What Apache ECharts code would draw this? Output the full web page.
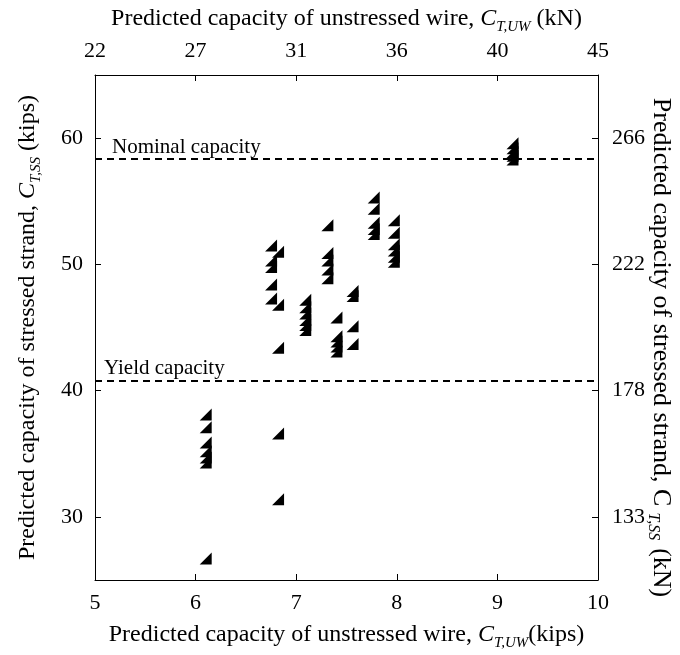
<!DOCTYPE html>
<html>
<head>
<meta charset="utf-8">
<script src="https://cdn.jsdelivr.net/npm/echarts@6/dist/echarts.min.js"></script>
<style>
  html, body { margin: 0; padding: 0; background: #fff; }
  #chart { width: 680px; height: 655px; }
</style>
</head>
<body>
<div id="chart"></div>
<script>
// predicted capacity of unstressed wire (kips) / stressed strand (kips)
var wireKips = [
  6.1, 6.1, 6.1, 6.1, 6.1, 6.1, 6.1,
  6.82, 6.82, 6.82,
  6.75, 6.75, 6.75, 6.75, 6.75,
  6.82, 6.82,
  7.09, 7.09, 7.09, 7.09, 7.09, 7.09,
  7.31, 7.31, 7.31, 7.31, 7.31,
  7.40, 7.40, 7.40, 7.40, 7.40,
  7.56, 7.56, 7.56, 7.56,
  7.77, 7.77, 7.77, 7.77, 7.77,
  7.97, 7.97, 7.97, 7.97, 7.97, 7.97,
  9.15, 9.15, 9.15, 9.15, 9.15
];
var strandKips = [
  38.1, 37.1, 35.9, 35.2, 34.7, 34.3, 26.7,
  36.6, 31.4, 43.4,
  51.5, 50.3, 49.8, 48.4, 47.3,
  51.0, 46.8,
  47.2, 46.6, 46.1, 45.6, 45.2, 44.8,
  53.1, 50.9, 50.3, 49.6, 48.9,
  45.8, 44.3, 43.9, 43.5, 43.1,
  47.9, 47.5, 45.1, 43.7,
  55.3, 54.4, 53.3, 52.8, 52.4,
  53.5, 52.5, 51.6, 51.1, 50.6, 50.2,
  59.6, 59.2, 58.9, 58.6, 58.3
];

var kipsTicks = [5, 6, 7, 8, 9, 10];
var wireKnLabels = ['22', '27', '31', '36', '40', '45'];
var strandTicks = [30, 40, 50, 60];
var strandKnLabels = ['133', '178', '222', '266'];

var nominalCapacity = 58.4;
var yieldCapacity = 40.75;

var FONT = '"Liberation Serif", "DejaVu Serif", serif';

var nameRich = {
  t: { fontFamily: FONT, fontSize: 24, color: '#000', lineHeight: 30 },
  i: { fontFamily: FONT, fontSize: 24, color: '#000', fontStyle: 'italic', lineHeight: 30 },
  s: { fontFamily: FONT, fontSize: 15, color: '#000', fontStyle: 'italic', padding: [16, 0, 0, 0], lineHeight: 16 }
};
var rightRich = {
  t: { fontFamily: FONT, fontSize: 26, color: '#000', lineHeight: 30 },
  u: { fontFamily: FONT, fontSize: 26, color: '#000', lineHeight: 30 },
  g: { fontFamily: FONT, fontSize: 16, color: '#000', fontStyle: 'italic', padding: [16, 8, 0, 6], lineHeight: 16 }
};

var points = wireKips.map(function(x, i) { return [x, strandKips[i]]; });

var lineStyle = { color: '#000', width: 1 };
var tickStyle = { show: true, inside: true, length: 6, lineStyle: { color: '#000', width: 1 } };
var labelStyle = { fontFamily: FONT, fontSize: 22, color: '#000' };

var chart = echarts.init(document.getElementById('chart'));
chart.setOption({
  animation: false,
  backgroundColor: '#fff',
  grid: { left: 95, right: 82, top: 75, bottom: 75, outerBoundsMode: 'none', containLabel: false },
  xAxis: [
    {
      type: 'value', position: 'bottom', min: 5, max: 10, interval: 1,
      axisLine: { show: true, lineStyle: lineStyle },
      axisTick: tickStyle,
      splitLine: { show: false },
      axisLabel: Object.assign({ margin: 12 }, labelStyle),
      name: '{t|Predicted capacity of unstressed wire, }{i|C}{s|T,UW}{t|(kips)}',
      nameLocation: 'middle', nameGap: 40,
      nameTextStyle: { rich: nameRich }
    },
    {
      type: 'value', position: 'top', min: 5, max: 10, interval: 1,
      axisLine: { show: true, lineStyle: lineStyle },
      axisTick: tickStyle,
      splitLine: { show: false },
      axisLabel: Object.assign({
        margin: 13,
        formatter: function(v) { return wireKnLabels[kipsTicks.indexOf(Math.round(v))]; }
      }, labelStyle),
      name: '{t|Predicted capacity of unstressed wire, }{i|C}{s|T,UW}{t| (kN)}',
      nameLocation: 'middle', nameGap: 41,
      nameTextStyle: { rich: nameRich }
    }
  ],
  yAxis: [
    {
      type: 'value', position: 'left', min: 25, max: 65,
      axisLine: { show: true, lineStyle: lineStyle },
      axisTick: Object.assign({ customValues: strandTicks }, tickStyle),
      splitLine: { show: false },
      axisLabel: Object.assign({ margin: 12, customValues: strandTicks }, labelStyle),
      name: '{t|Predicted capacity of stressed strand, }{i|C}{s|T,SS}{t| (kips)}',
      nameLocation: 'middle', nameGap: 52,
      nameTextStyle: { rich: nameRich }
    },
    {
      type: 'value', position: 'right', min: 25, max: 65,
      axisLine: { show: true, lineStyle: lineStyle },
      axisTick: Object.assign({ customValues: strandTicks }, tickStyle),
      splitLine: { show: false },
      axisLabel: Object.assign({
        margin: 14,
        customValues: strandTicks,
        formatter: function(v) { return strandKnLabels[strandTicks.indexOf(Math.round(v))]; }
      }, labelStyle),
      name: '{t|Predicted capacity of stressed strand, }{u|C}{g|T,SS}{t|(kN)}',
      nameLocation: 'middle', nameGap: 48, nameRotate: -90, nameMoveOverlap: false,
      nameTextStyle: { rich: rightRich, padding: [0, 0, 0, 40] }
    }
  ],
  series: [
    {
      type: 'scatter',
      xAxisIndex: 0, yAxisIndex: 0,
      data: points,
      symbol: 'path://M10,0L10,10L0,10Z',
      symbolSize: 12,
      itemStyle: { color: '#000', opacity: 1 },
      markLine: {
        silent: true,
        symbol: ['none', 'none'],
        lineStyle: { color: '#000', type: [7, 5], width: 2 },
        label: {
          show: true,
          position: 'insideStartTop',
          fontFamily: FONT, fontSize: 21, color: '#000'
        },
        data: [
          { yAxis: nominalCapacity, label: { formatter: 'Nominal capacity', distance: [17, 0] } },
          { yAxis: yieldCapacity, label: { formatter: 'Yield capacity', distance: [9, 2] } }
        ]
      }
    }
  ]
});
</script>
</body>
</html>
